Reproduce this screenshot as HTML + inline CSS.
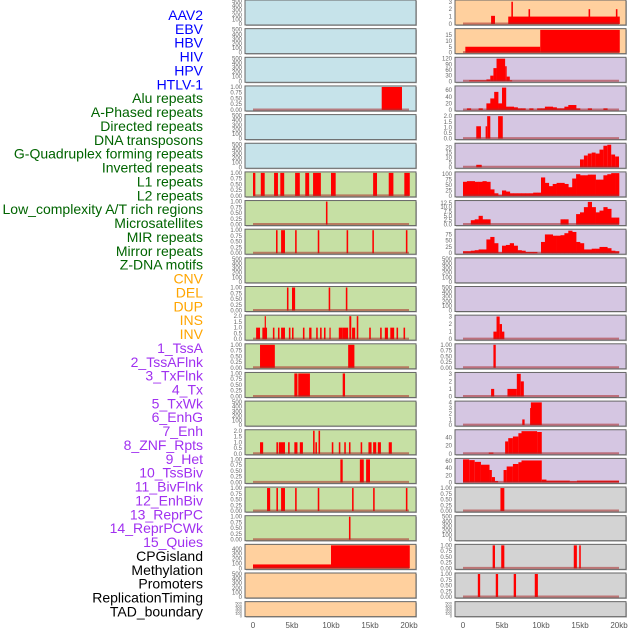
<!DOCTYPE html>
<html><head><meta charset="utf-8"><style>
html,body{margin:0;padding:0;background:#fff;}
svg{display:block;font-family:"Liberation Sans",sans-serif;}
</style></head><body>
<svg id="chart" width="630" height="630" viewBox="0 0 630 630" xmlns="http://www.w3.org/2000/svg">
<g id="labels" font-size="14" text-anchor="end"></g>
<g id="panels"></g>
<g id="xaxes" font-size="8" fill="#555" text-anchor="middle"></g>
</svg>
<script>
const trackLabels=["AAV2","EBV","HBV","HIV","HPV","HTLV-1","Alu repeats","A-Phased repeats","Directed repeats","DNA transposons","G-Quadruplex forming repeats","Inverted repeats","L1 repeats","L2 repeats","Low_complexity A/T rich regions","Microsatellites","MIR repeats","Mirror repeats","Z-DNA motifs","CNV","DEL","DUP","INS","INV","1_TssA","2_TssAFlnk","3_TxFlnk","4_Tx","5_TxWk","6_EnhG","7_Enh","8_ZNF_Rpts","9_Het","10_TssBiv","11_BivFlnk","12_EnhBiv","13_ReprPC","14_ReprPCWk","15_Quies","CPGisland","Methylation","Promoters","ReplicationTiming","TAD_boundary"];
const xTicks=[0,5,10,15,20];
const xTickLabels=["0","5kb","10kb","15kb","20kb"];
// segments: [startKb, endKb, value]
const segL3=[[16.5,19.1,1]];
const segL6=[[0,0.3,1],[1.0,1.5,1],[2.7,3.2,1],[3.5,4.0,1],[5.4,6.0,1],[6.7,7.2,1],[7.7,8.7,1],[10.0,10.6,1],[15.4,15.9,1],[17.4,18.0,1],[19.4,20.1,1]];
const segL7=[[9.35,9.55,1]];
const segL8=[[2.95,3.15,1],[3.6,4.1,1],[5.4,5.6,1],[8.3,8.5,1],[12.0,12.2,1],[15.3,15.5,1],[19.6,19.8,1]];
const segL10=[[4.35,4.55,1],[5.0,5.4,1],[9.7,9.9,1],[11.9,12.1,1]];
const segL11=[[0.4,0.9,1],[1.2,1.8,1],[1.5,1.65,2],[2.55,2.75,1],[3.2,3.4,1],[3.6,4.1,1],[4.6,4.8,1],[5.0,5.2,1],[6.4,6.6,1],[7.2,7.5,1],[8.1,8.3,1],[8.6,8.8,1],[9.1,9.3,1],[9.8,9.95,1],[11.0,11.5,1],[11.5,12.2,1],[12.35,12.6,2],[12.7,13.1,1],[13.3,13.5,2],[14.9,15.1,1],[16.3,16.5,1],[16.9,17.3,1],[17.6,18.1,1],[18.4,18.6,1],[19.3,19.5,1]];
const segL12=[[0.9,2.8,1],[12.2,13.0,1]];
const segL13=[[5.3,5.7,1],[5.8,7.3,1],[11.5,11.8,1]];
const segL15=[[0.9,1.3,1],[3.0,3.2,1],[3.3,4.1,1],[4.5,4.7,1],[5.3,5.7,1],[6.0,6.4,1],[7.7,7.9,2],[8.0,8.2,1],[8.4,8.6,2],[10.1,10.3,1],[11.0,11.2,1],[11.7,11.9,1],[12.3,12.5,1],[13.8,14.0,1],[14.8,15.2,1],[15.4,15.8,1],[16.0,16.4,1],[17.4,17.8,1]];
const segL16=[[11.2,11.5,1],[13.7,14.2,1],[14.5,15.0,1]];
const segL17=[[1.8,2.2,1],[3.0,3.2,1],[3.6,4.1,1],[5.4,5.6,1],[8.3,8.5,1],[12.7,12.9,1],[15.4,15.6,1],[19.6,19.8,1]];
const segL18=[[12.3,12.5,1]];
const segL19=[[0,10,80],[10,20.1,470]];
const segR0=[[3.6,4.1,1.1],[5.8,20.1,1],[6.2,6.4,3],[8.4,8.6,2],[16.1,16.3,2],[19.6,19.8,2]];
const segR1=[[0.3,9.9,5],[9.9,20.1,19.3]];
const segR2=[[0.8,3.0,5],[3.0,3.5,10],[3.5,3.9,30],[3.9,4.3,70],[4.3,5.4,120],[5.4,5.6,80],[5.6,6.0,25],[6.0,6.3,5]];
const segR4=[[1.7,2.3,1.1],[2.9,3.1,1.1],[3.1,3.5,2],[4.5,5.1,2]];
const segR5=[[1.7,2.4,2.5],[15,15.5,8],[15.5,16,12],[16,16.5,14],[16.5,17,15],[17,17.5,14],[17.5,18,18],[18,18.5,22],[18.5,19,23],[19,19.5,13],[19.5,20,11]];
const segR11=[[3.9,4.3,1],[4.3,4.7,3],[4.7,5.0,2],[5.0,5.3,1]];
const segR12=[[3.9,4.2,1]];
const segR13=[[3.6,4.0,1],[5.7,6.9,1],[6.9,7.4,3],[7.4,7.8,2]];
const segR14=[[7.6,7.9,1],[8.6,8.7,3],[8.7,10.1,4]];
const segR15=[[3.3,3.9,3],[5.4,5.8,30],[5.8,6.4,38],[6.4,7.1,42],[7.1,7.5,50],[7.5,9.5,55],[9.5,10.1,53]];
const segR16=[[0,0.8,65],[0.8,1.5,63],[1.5,2.3,58],[2.3,3.4,50],[3.4,3.7,35],[3.7,4.1,15],[4.1,4.5,4],[5.2,5.6,35],[5.6,6.4,45],[6.4,7.1,52],[7.1,7.5,57],[7.5,10.1,62],[10.1,10.7,8],[10.7,13.7,5],[13.7,14.6,3],[14.6,20,5]];
const segR17=[[4.8,5.3,1]];
const segR19=[[3.8,4.1,1],[4.9,5.3,1],[14.2,14.6,1],[14.9,15.1,1]];
const segR20=[[1.9,2.2,1],[4.2,4.5,1],[6.5,6.8,1],[9.2,9.6,1]];
// 0.5kb bins
const binsR3=[0,5,0,0,5,0,20,35,55,20,68,10,10,8,5,5,0,5,0,5,5,10,10,8,5,5,10,15,15,5,0,0,5,0,0,0,5,0,0,0];
const binsR6=[65,68,68,65,65,68,65,30,12,3,25,20,12,12,12,12,12,12,15,15,85,60,45,55,60,60,55,40,80,100,95,95,98,98,75,75,95,100,105,105];
const binsR7=[0,0,2.5,3,5,3,3,0,0,0,0,0,0,0,0,0,0,0,0,0,0,0,0,0,0,3,3,0,0,6,7,10,13,10,7,8,10,9,4,4];
const binsR8=[8,8,10,12,15,15,55,65,40,3,30,33,40,30,12,10,5,5,5,0,45,75,75,70,70,72,80,90,85,45,40,15,15,18,18,25,25,20,10,8];

const tE=[0,100,200,300,400,500], lE=["0","100","200","300","400","500"];
const tU=[0,0.25,0.5,0.75,1], lU=["0.00","0.25","0.50","0.75","1.00"];
const t2=[0,0.5,1,1.5,2], l2=["0.0","0.5","1.0","1.5","2.0"];
const BLUE="#c6e3ea",GREEN="#c6e0a4",PEACH="#ffd09e",LAV="#d5c6e2",GRAY="#d3d3d3";
const panels=[];
function P(col,row,bg,ticks,labels,max,segs,bins){panels.push({col,row,bg,ticks,labels,max,segs,bins});}
// left column
for(let r=0;r<22;r++){
  const bg=r<6?BLUE:(r<19?GREEN:PEACH);
  const m={3:segL3,6:segL6,7:segL7,8:segL8,10:segL10,11:segL11,12:segL12,13:segL13,15:segL15,16:segL16,17:segL17,18:segL18,19:segL19};
  if(r===11||r===15) P(0,r,bg,t2,l2,2,m[r]);
  else if(r===19) P(0,r,bg,[0,100,200,300,400],["0","100","200","300","400"],470,m[r]);
  else if(m[r]) P(0,r,bg,tU,lU,1,m[r]);
  else P(0,r,bg,tE,lE,500,null);
}
// right column
const rbg=r=>r<2?PEACH:(r<17?LAV:GRAY);
P(1,0,rbg(0),[0,1,2,3],["0","1","2","3"],3.1,segR0);
P(1,1,rbg(1),[0,5,10,15],["0","5","10","15"],19.5,segR1);
P(1,2,rbg(2),[0,30,60,90,120],["0","30","60","90","120"],122,segR2);
P(1,3,rbg(3),[0,20,40,60],["0","20","40","60"],70,null,binsR3);
P(1,4,rbg(4),t2,l2,2.05,segR4);
P(1,5,rbg(5),[0,5,10,15,20],["0","5","10","15","20"],23.5,segR5);
P(1,6,rbg(6),[0,25,50,75,100],["0","25","50","75","100"],106,null,binsR6);
P(1,7,rbg(7),[0,2.5,5,7.5,10,12.5],["0.0","2.5","5.0","7.5","10.0","12.5"],13.2,null,binsR7);
P(1,8,rbg(8),[0,25,50,75],["0","25","50","75"],92,null,binsR8);
P(1,9,rbg(9),tE,lE,500,null);
P(1,10,rbg(10),tE,lE,500,null);
P(1,11,rbg(11),[0,1,2,3],["0","1","2","3"],3.05,segR11);
P(1,12,rbg(12),tU,lU,1,segR12);
P(1,13,rbg(13),[0,1,2,3],["0","1","2","3"],3.05,segR13);
P(1,14,rbg(14),[0,1,2,3,4],["0","1","2","3","4"],4.05,segR14);
P(1,15,rbg(15),[0,20,40],["0","20","40"],56,segR15);
P(1,16,rbg(16),[0,20,40,60],["0","20","40","60"],65,segR16);
P(1,17,rbg(17),tU,lU,1,segR17);
P(1,18,rbg(18),tE,lE,500,null);
P(1,19,rbg(19),tU,lU,1,segR19);
P(1,20,rbg(20),tU,lU,1,segR20);
P(1,21,rbg(21),tE,lE,500,null);

const NS="http://www.w3.org/2000/svg";
function mk(tag,attrs,parent){const e=document.createElementNS(NS,tag);for(const k in attrs)e.setAttribute(k,attrs[k]);parent.appendChild(e);return e;}
const colLeft=[245,455], colW=171, x0off=8, pxPerKb=7.8;
function xScale(col,kb){return colLeft[col]+x0off+kb*pxPerKb;}
function rowTop(r){return r*28.65;}
function rowH(r){return r===21?15:25;}

// labels
const lg=document.getElementById('labels');
trackLabels.forEach((t,i)=>{
  let c="#0000ff"; if(i>=6)c="#006400"; if(i>=19)c="#ffa500"; if(i>=24)c="#a030f0"; if(i>=39)c="#000";
  const e=mk('text',{x:203,y:15+i*13.87+5,fill:c},lg); e.textContent=t;
  
  
});

const pg=document.getElementById('panels');
panels.forEach(p=>{
  const g=mk('g',{},pg);
  
  
  const top=rowTop(p.row), h=rowH(p.row), L=colLeft[p.col];
  mk('rect',{x:L+1,y:top+1,width:colW,height:h,fill:"#bbb"},g);
  mk('rect',{x:L,y:top,width:colW,height:h,fill:p.bg,stroke:"#666","stroke-width":1},g);
  const y0=top+h-1, span=h-2;
  const yS=v=>y0-v/p.max*span;
  const tg=mk('g',{"font-size":p.row===21?4:6,fill:"#666","text-anchor":"end"},g);
  p.ticks.forEach((v,i)=>{const t=mk('text',{x:L-3,y:yS(v)+2},tg);t.textContent=p.labels[i];
    });
  if(p.segs||p.bins){
    p.segs&&p.segs.forEach(s=>{
      const x1=xScale(p.col,s[0]),x2=xScale(p.col,s[1]),y=yS(s[2]);
      const r=mk('rect',{x:x1,y:y,width:Math.max(1.2,x2-x1),height:y0-y,fill:"#ff0000"},g);
      
    });
    p.bins&&p.bins.forEach((v,i)=>{
      if(v<=0)return;
      const x1=xScale(p.col,i*0.5),x2=xScale(p.col,(i+1)*0.5),y=yS(v);
      const r=mk('rect',{x:x1,y:y,width:x2-x1+0.3,height:y0-y,fill:"#ff0000"},g);
      
    });
    mk('line',{x1:xScale(p.col,0),x2:xScale(p.col,20),y1:y0-0.5,y2:y0-0.5,stroke:"rgba(170,40,40,0.55)","stroke-width":2},g);
  }
});

const xg=document.getElementById('xaxes');
[0,1].forEach(col=>{xTicks.forEach((v,i)=>{
  const t=mk('text',{x:xScale(col,v),y:628},xg);t.textContent=xTickLabels[i];
  
});});
</script>
</body></html>
